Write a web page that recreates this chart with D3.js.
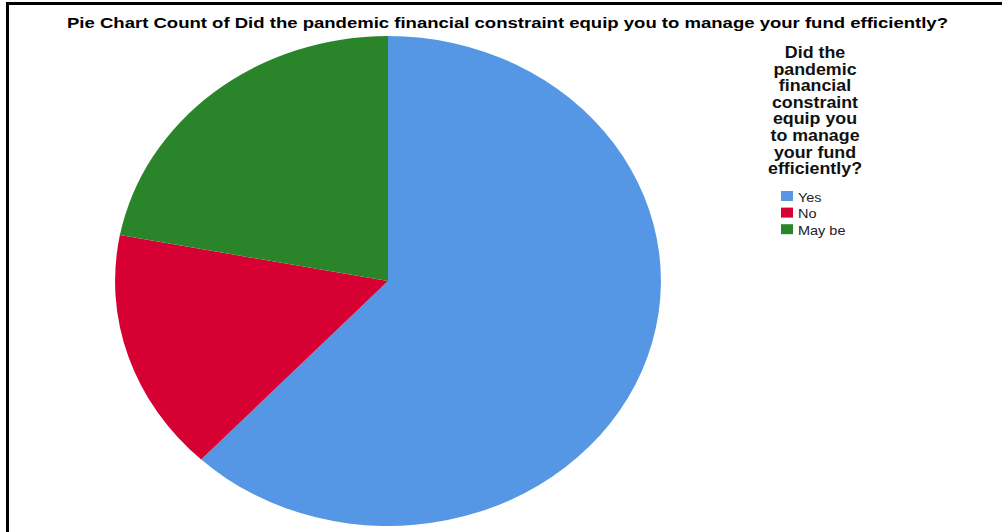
<!DOCTYPE html>
<html>
<head>
<meta charset="utf-8">
<script src="https://cdn.jsdelivr.net/npm/d3@7"></script>
<style>
  html, body { margin: 0; padding: 0; background: #fff; }
  svg { display: block; }
  text { font-family: "Liberation Sans", Arial, sans-serif; }
</style>
</head>
<body>
<svg id="chart" width="1002" height="532"></svg>
<script>
// Survey answers and their counts
const categories = ["Yes", "No", "May be"];
const counts = [62, 16, 22];
const colors = ["#5597e4", "#d70032", "#2a852a"];

const chartTitle = "Pie Chart Count of Did the pandemic financial constraint equip you to manage your fund efficiently?";
const legendTitle = ["Did the", "pandemic", "financial", "constraint", "equip you", "to manage", "your fund", "efficiently?"];

const svg = d3.select("#chart");
const W = 1002, H = 532;
const stretch = 1.114; // horizontal stretch of the whole output

// Frame
svg.append("path")
  .attr("d", `M7.5,${H} L7.5,3.5 L${W},3.5`)
  .attr("fill", "none")
  .attr("stroke", "#000")
  .attr("stroke-width", 3);

// Title
svg.append("text")
  .attr("x", 67)
  .attr("y", 28)
  .attr("font-size", 14)
  .attr("font-weight", "bold")
  .attr("fill", "#000")
  .attr("textLength", 881)
  .attr("lengthAdjust", "spacingAndGlyphs")
  .text(chartTitle);

// Pie
const radius = 245;
const cx = 388, cy = 281;
const pie = d3.pie().sort(null).value(d => d.value);
const arc = d3.arc().innerRadius(0).outerRadius(radius);
const data = categories.map((c, i) => ({ name: c, value: counts[i], color: colors[i] }));

const pieG = svg.append("g")
  .attr("transform", `translate(${cx},${cy}) scale(${stretch},1)`);
pieG.selectAll("path")
  .data(pie(data))
  .join("path")
  .attr("d", arc)
  .attr("fill", d => d.data.color);

// Legend title
const ltX = 815, ltY = 58, ltStep = 16.6;
svg.append("g").selectAll("text")
  .data(legendTitle)
  .join("text")
  .attr("transform", (d, i) => `translate(${ltX},${ltY + i * ltStep}) scale(${stretch},1)`)
  .attr("text-anchor", "middle")
  .attr("font-size", 16)
  .attr("font-weight", "bold")
  .attr("fill", "#111")
  .text(d => d);

// Legend entries
const legY = 191, legStep = 16.6;
const legend = svg.append("g").selectAll("g")
  .data(data)
  .join("g")
  .attr("transform", (d, i) => `translate(781,${legY + i * legStep})`);
legend.append("rect")
  .attr("width", 12)
  .attr("height", 10)
  .attr("fill", d => d.color);
legend.append("text")
  .attr("transform", `translate(17,10.5) scale(${stretch},1)`)
  .attr("font-size", 13)
  .attr("fill", "#222")
  .text(d => d.name);
</script>
</body>
</html>
